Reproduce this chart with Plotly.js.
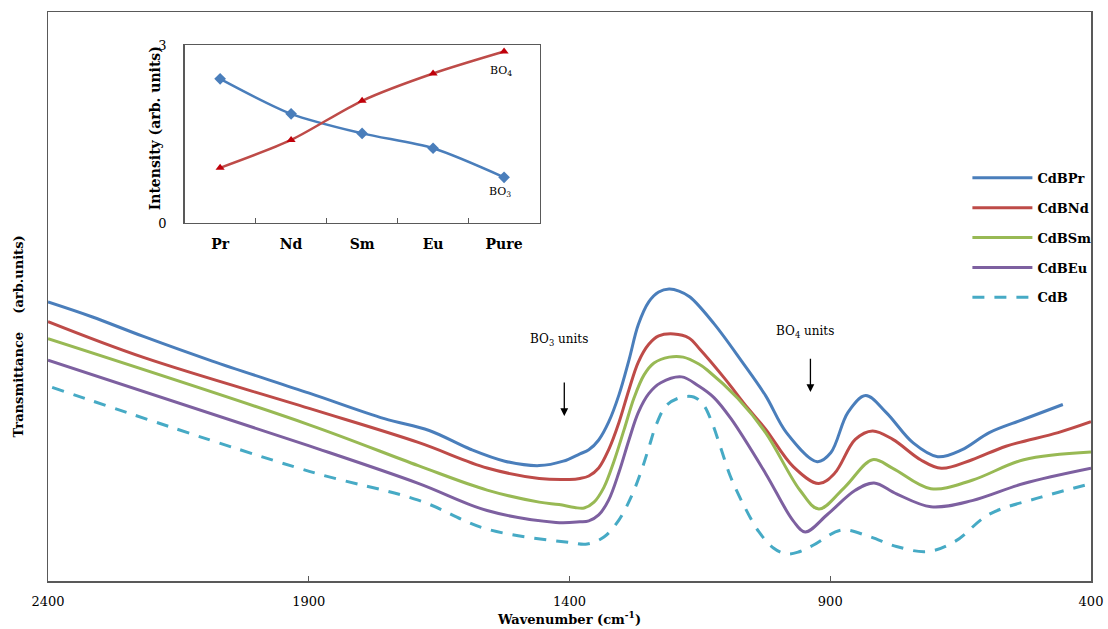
<!DOCTYPE html>
<html>
<head>
<meta charset="utf-8">
<script src="https://cdn.plot.ly/plotly-3.0.1.min.js"></script>
<style>html,body{margin:0;padding:0;background:#fff;}#chart{width:1108px;height:629px;}</style>
</head>
<body>
<div id="chart"></div>
<script>
// ---- main FTIR spectra (wavenumber, transmittance arb. units) ----
const wnPr = [2400,2316,2217,2085,1899,1755,1669,1590,1524,1458,1412,1380,1363,1344,1325,1305,1286,1268,1248,1229,1209,1190,1169,1123,1070,1024,984,925,899,866,832,793,741,694,648,595,529,454];
const tPr  = [2.83,2.68,2.48,2.23,1.905,1.646,1.526,1.336,1.215,1.17,1.215,1.29,1.33,1.43,1.61,1.89,2.24,2.60,2.83,2.93,2.96,2.94,2.88,2.61,2.23,1.88,1.505,1.21,1.30,1.71,1.88,1.71,1.40,1.26,1.33,1.505,1.64,1.79];

const wnNd = [2400,2217,1899,1690,1558,1458,1400,1380,1363,1344,1325,1305,1286,1268,1248,1229,1200,1171,1150,1103,1057,1024,971,922,892,852,819,780,727,687,628,563,463,400];
const tNd  = [2.63,2.267,1.75,1.405,1.146,1.04,1.03,1.04,1.065,1.146,1.33,1.61,1.94,2.22,2.40,2.485,2.505,2.465,2.35,2.057,1.746,1.54,1.16,0.988,1.09,1.436,1.522,1.436,1.23,1.143,1.23,1.367,1.505,1.615];

const wnSm = [2400,1899,1690,1558,1458,1420,1390,1372,1353,1334,1315,1295,1276,1257,1238,1209,1182,1152,1136,1077,1024,958,922,872,819,780,707,628,529,400];
const tSm  = [2.457,1.584,1.17,0.922,0.80,0.775,0.745,0.74,0.80,0.95,1.21,1.54,1.86,2.09,2.21,2.27,2.27,2.20,2.14,1.85,1.505,0.92,0.73,0.953,1.23,1.143,0.936,1.022,1.23,1.308];

const wnEu = [2400,1899,1690,1558,1426,1380,1363,1344,1325,1305,1286,1268,1248,1225,1185,1153,1123,1090,1024,971,948,905,852,816,773,707,628,529,400];
const tEu  = [2.24,1.37,0.99,0.715,0.594,0.60,0.61,0.67,0.82,1.105,1.43,1.71,1.90,2.01,2.07,1.98,1.86,1.643,1.091,0.61,0.498,0.677,0.92,0.994,0.884,0.753,0.815,0.988,1.143];

const wnCdB = [2392,1899,1690,1558,1399,1366,1334,1305,1282,1263,1248,1234,1215,1190,1162,1143,1127,1110,1091,1066,1037,1009,984,961,932,878,826,773,714,661,595,496,400];
const tCdB  = [1.963,1.112,0.82,0.526,0.39,0.375,0.446,0.62,0.85,1.105,1.35,1.58,1.775,1.856,1.866,1.785,1.61,1.35,1.055,0.77,0.50,0.335,0.274,0.294,0.365,0.517,0.453,0.35,0.298,0.401,0.677,0.85,0.988];

const xTicks = [2400,1900,1400,900,400];

// ---- inset ----
const insetCats = ['Pr','Nd','Sm','Eu','Pure'];
const bo3 = [2.43,1.84,1.51,1.26,0.77];
const bo4 = [0.93,1.40,2.06,2.52,2.89];

const serif = 'DejaVu Serif';
const lineCol = '#595959';

function spec(name, x, y, color, dash) {
  return {x: x, y: y, name: name, type: 'scatter', mode: 'lines', legendgroup: name,
    line: {color: color, width: 3, shape: 'spline', smoothing: 1, dash: dash || 'solid'},
    xaxis: 'x', yaxis: 'y', hoverinfo: 'skip'};
}

const traces = [
  spec('CdBPr', wnPr, tPr, '#4A7EBB'),
  spec('CdBNd', wnNd, tNd, '#BE4B48'),
  spec('CdBSm', wnSm, tSm, '#98B954'),
  spec('CdBEu', wnEu, tEu, '#7D60A0'),
  spec('CdB', wnCdB, tCdB, '#46AAC5', '12px,10px'),
  {x: insetCats, y: bo3, type: 'scatter', mode: 'lines+markers', showlegend: false,
   line: {color: '#4A7EBB', width: 2.5, shape: 'spline', smoothing: 0.8},
   marker: {symbol: 'diamond', size: 9, color: '#4A7EBB'}, xaxis: 'x2', yaxis: 'y2'},
  {x: insetCats, y: bo4, type: 'scatter', mode: 'lines+markers', showlegend: false,
   line: {color: '#BE4B48', width: 2.5, shape: 'spline', smoothing: 0.8},
   marker: {symbol: 'triangle-up', size: 8, color: '#C0000A'}, xaxis: 'x2', yaxis: 'y2'}
];

const layout = {
  width: 1108, height: 629,
  margin: {l: 48, r: 14, t: 12, b: 48},
  paper_bgcolor: '#fff', plot_bgcolor: '#fff',
  font: {family: serif, color: '#000', size: 13},
  showlegend: true,
  legend: {x: 0.8815, y: 0.735, xanchor: 'left', yanchor: 'top', traceorder: 'grouped',
    tracegroupgap: 10, itemwidth: 60, font: {family: serif, size: 13, weight: 'bold'},
    bgcolor: 'rgba(0,0,0,0)'},
  xaxis: {range: [2400, 400], tickvals: xTicks, ticktext: xTicks.map(String),
    ticks: 'inside', ticklen: 5, tickcolor: lineCol, showline: true, mirror: true,
    linecolor: lineCol, linewidth: 1.5, showgrid: false, zeroline: false,
    ticklabelstandoff: 8, tickfont: {family: serif, size: 13},
    title: {text: 'Wavenumber (cm<sup>-1</sup>)', font: {family: serif, size: 13, weight: 'bold'}, standoff: 6},
    automargin: false, anchor: 'y'},
  yaxis: {range: [0, 5.77], showticklabels: false, ticks: '', showline: true, mirror: true,
    linecolor: lineCol, linewidth: 1.5, showgrid: false, zeroline: false, automargin: false, anchor: 'x'},
  xaxis2: {domain: [0.131, 0.4713], anchor: 'y2', type: 'category', range: [-0.5, 4.5],
    ticks: 'inside', tickson: 'boundaries', ticklen: 5, tickcolor: lineCol,
    showline: true, mirror: true, linecolor: lineCol, linewidth: 1.5, showgrid: false,
    ticklabelstandoff: 8, tickfont: {family: serif, size: 14, weight: 'bold'}, automargin: false},
  yaxis2: {domain: [0.6292, 0.942], anchor: 'x2', range: [0, 3], tickvals: [0, 3], ticks: '',
    showline: true, mirror: true, linecolor: lineCol, linewidth: 1.5, showgrid: false, zeroline: false,
    ticklabelstandoff: 14, tickfont: {family: serif, size: 13}, automargin: false},
  annotations: [
    {xref: 'paper', yref: 'paper', x: -0.0287, y: 0.43, xanchor: 'center', yanchor: 'middle',
     text: 'Transmittance\u00A0\u00A0\u00A0\u00A0(arb.units)',
     textangle: -90, showarrow: false, font: {family: serif, size: 13, weight: 'bold'}},
    {xref: 'paper', yref: 'paper', x: 0.1023, y: 0.795, xanchor: 'center', yanchor: 'middle',
     text: 'Intensity (arb. units)',
     textangle: -90, showarrow: false, font: {family: serif, size: 14, weight: 'bold'}},
    {xref: 'x', yref: 'y', x: 1420, y: 2.444, text: 'BO<sub>3</sub> units', showarrow: false,
     font: {family: serif, size: 12}},
    {xref: 'x', yref: 'y', x: 1410, y: 1.673, ax: 1410, ay: 2.028, axref: 'x', ayref: 'y', text: '',
     showarrow: true, arrowhead: 2, arrowsize: 1.2, arrowwidth: 1.3, arrowcolor: '#000'},
    {xref: 'x', yref: 'y', x: 949, y: 2.525, text: 'BO<sub>4</sub> units', showarrow: false,
     font: {family: serif, size: 12}},
    {xref: 'x', yref: 'y', x: 938, y: 1.917, ax: 938, ay: 2.27, axref: 'x', ayref: 'y', text: '',
     showarrow: true, arrowhead: 2, arrowsize: 1.2, arrowwidth: 1.3, arrowcolor: '#000'},
    {xref: 'x2', yref: 'y2', x: 4, y: 2.57, text: 'BO<sub>4</sub>', showarrow: false, xshift: -3,
     font: {family: serif, size: 11}},
    {xref: 'x2', yref: 'y2', x: 4, y: 0.52, text: 'BO<sub>3</sub>', showarrow: false, xshift: -4,
     font: {family: serif, size: 11}}
  ]
};

Plotly.newPlot('chart', traces, layout, {displayModeBar: false, staticPlot: true});
</script>
</body>
</html>
